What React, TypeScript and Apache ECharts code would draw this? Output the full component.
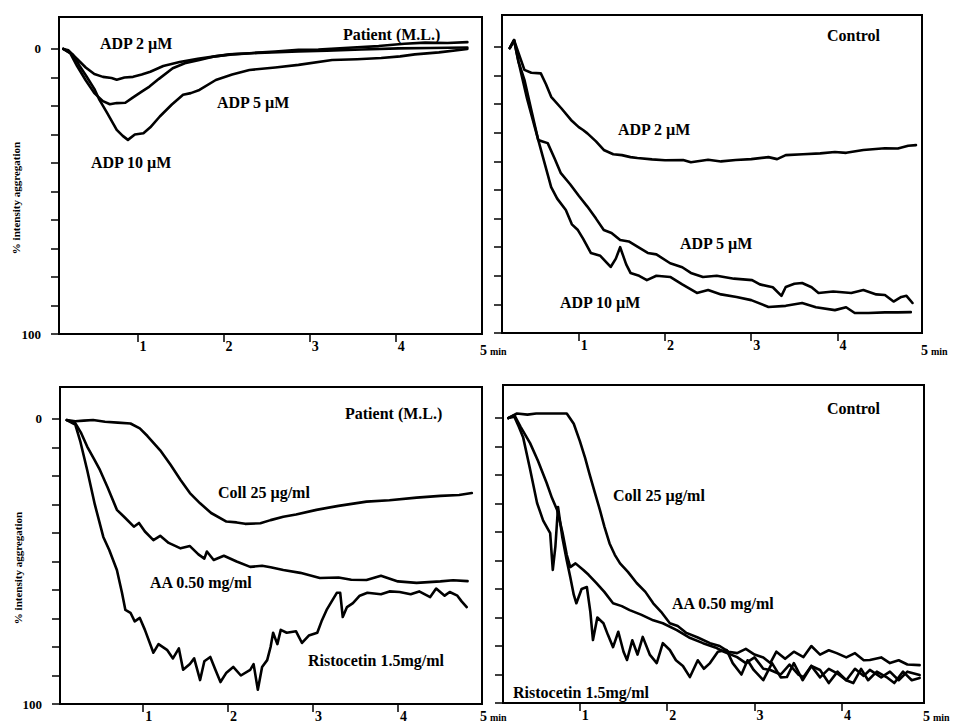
import React, { useEffect, useRef } from "react";
import * as echarts from "echarts";

// ---- Data (x: minutes, y: % intensity aggregation) ----
const xTickValues = [1, 2, 3, 4];
const yTickValues = [0, 10, 20, 30, 40, 50, 60, 70, 80, 90, 100];
const yLabelValues = [0, 100];

// Top-left: Patient (M.L.), ADP
const adp2Patient = [[0.14,0],[0.2,0.5],[0.3,3.5],[0.4,6.5],[0.5,8.8],[0.6,9.8],[0.7,10.2],[0.76,10.8],[0.85,10],[0.95,9.8],[1.05,9],[1.15,8],[1.3,6],[1.49,4.6],[1.7,3.5],[1.9,2.6],[2.07,1.9],[2.3,1.5],[2.6,0.9],[2.87,0.3],[3.1,0.2],[3.45,-0.4],[3.8,-1],[4.1,-1.8],[4.34,-2.2],[4.6,-2.1],[4.83,-2.4]];
const adp5Patient = [[0.14,0],[0.22,1.5],[0.3,6],[0.4,11],[0.5,15.5],[0.6,18.3],[0.68,19.4],[0.76,19],[0.86,18.9],[0.95,17],[1.05,15],[1.14,13.2],[1.25,10.5],[1.41,6.8],[1.55,5],[1.72,3.9],[1.9,2.6],[2.1,1.9],[2.4,1.4],[2.87,0.9],[3.2,0.6],[3.6,0.2],[4.03,-0.2],[4.4,-0.3],[4.83,-0.5]];
const adp10Patient = [[0.14,0],[0.25,2],[0.33,6],[0.41,9.7],[0.5,14],[0.56,17.9],[0.65,22.5],[0.76,28.4],[0.83,30.5],[0.89,31.9],[0.97,30],[1.07,29.6],[1.15,27.5],[1.26,23.7],[1.4,19.5],[1.53,16.1],[1.62,15.5],[1.72,14.4],[1.91,10.9],[2.1,9],[2.3,7.4],[2.6,6.5],[2.87,5.6],[3.26,3.9],[3.55,3.6],[3.83,3.2],[4.05,2.6],[4.22,1.9],[4.5,1.2],[4.83,0]];

// Top-right: Control, ADP
const adp2Control = [[0.2,0.4],[0.25,-2.4],[0.3,2],[0.37,8],[0.45,9],[0.56,9.2],[0.62,13],[0.68,17.4],[0.8,21.5],[0.91,25.5],[1.0,28],[1.05,29],[1.1,30.2],[1.2,33],[1.29,36],[1.4,37.5],[1.5,37.8],[1.6,38.5],[1.68,38.8],[1.85,39.3],[2.0,39.6],[2.21,39.5],[2.3,40.3],[2.5,39.4],[2.65,40],[2.82,39.5],[3.0,39.2],[3.2,38.5],[3.3,39.2],[3.4,37.8],[3.6,37.5],[3.8,37.2],[3.97,36.7],[4.1,37],[4.3,36],[4.55,35.4],[4.7,35.5],[4.82,34.5],[4.91,34.3]];
const adp5Control = [[0.2,0.4],[0.25,-2.4],[0.3,5],[0.37,11.5],[0.45,22],[0.53,32.5],[0.58,33],[0.64,33.6],[0.72,39],[0.79,44],[0.9,48],[1.0,52],[1.1,55.8],[1.2,60],[1.29,64],[1.38,65],[1.48,67.5],[1.58,68],[1.68,69.8],[1.8,72],[1.9,72.5],[2.06,75.6],[2.2,77],[2.3,79],[2.44,80.4],[2.6,80],[2.8,81],[3.01,81.5],[3.1,83],[3.25,84],[3.35,87],[3.4,83.9],[3.5,82.8],[3.59,82.5],[3.7,84],[3.78,86],[3.95,85.5],[4.16,86],[4.3,85],[4.45,86.5],[4.55,86.7],[4.65,89],[4.74,87.4],[4.8,87],[4.87,89.5]];
const adp10Control = [[0.2,0.4],[0.25,-2.4],[0.3,5],[0.4,18],[0.49,28],[0.58,38],[0.68,49],[0.75,53],[0.85,57],[0.92,62],[0.99,64],[1.05,67],[1.14,72],[1.25,73],[1.37,76.9],[1.43,74],[1.48,70],[1.55,76],[1.6,79],[1.7,80],[1.79,81.5],[1.9,80],[2.06,80.4],[2.2,83],[2.37,86],[2.5,85],[2.65,86.5],[2.83,87.4],[3.0,88.5],[3.2,90.9],[3.4,90.5],[3.59,89.5],[3.75,91],[3.97,92],[4.1,91],[4.2,93],[4.36,93],[4.55,92.8],[4.7,92.8],[4.85,92.7]];

// Bottom-left: Patient (M.L.), Coll / AA / Ristocetin
const collPatient = [[0.1,0.4],[0.2,0.8],[0.3,0.6],[0.41,0.4],[0.55,1],[0.7,1.3],[0.85,1.6],[0.96,3.3],[1.05,6],[1.2,11],[1.32,16],[1.44,21.4],[1.55,26],[1.67,29.6],[1.8,33],[1.98,36],[2.1,36.3],[2.2,36.8],[2.38,36.6],[2.5,35.5],[2.65,34.3],[2.8,33.5],[3.04,31.9],[3.3,30.5],[3.63,29],[3.9,28.5],[4.22,27.6],[4.5,27],[4.72,26.7],[4.87,26]];
const aaPatient = [[0.1,0.4],[0.2,1.5],[0.27,5],[0.34,9.7],[0.42,14],[0.49,17.9],[0.58,24],[0.69,31.9],[0.78,34.5],[0.89,37.8],[0.95,36.5],[1.02,39.5],[1.12,42.5],[1.2,41],[1.3,43.5],[1.44,45.4],[1.55,44.6],[1.65,47.5],[1.72,49],[1.75,46.5],[1.83,49.5],[1.95,48],[2.1,50],[2.26,51.9],[2.4,51.5],[2.5,52],[2.65,53],[2.85,54],[3.08,55.8],[3.3,55.6],[3.45,56.4],[3.63,56.5],[3.8,55],[4.0,57],[4.22,57.5],[4.5,57],[4.65,56.6],[4.82,56.9]];
const ristPatient = [[0.1,0.4],[0.2,2],[0.26,8],[0.34,17.9],[0.43,30],[0.53,41.4],[0.6,46],[0.69,53],[0.75,61],[0.79,67],[0.85,68],[0.9,71],[0.96,69.8],[1.02,74],[1.12,82],[1.18,79],[1.28,81],[1.35,84],[1.42,80.5],[1.47,88],[1.55,86],[1.6,84],[1.67,91.6],[1.72,85],[1.79,83.5],[1.85,88],[1.91,92.3],[1.98,89],[2.06,87],[2.15,90],[2.26,88],[2.3,86],[2.35,95],[2.4,87],[2.46,84.6],[2.5,80],[2.53,75],[2.58,79],[2.62,74],[2.69,75],[2.8,74.5],[2.87,78.6],[2.95,76],[3.05,75],[3.1,71],[3.16,67],[3.22,64],[3.28,61],[3.32,61],[3.35,69.5],[3.4,66],[3.47,64.6],[3.55,62],[3.64,61],[3.8,61.5],[3.9,60.5],[4.02,60.7],[4.15,61.5],[4.25,60.5],[4.38,62.5],[4.45,59.5],[4.55,62],[4.61,60.7],[4.7,62],[4.75,64],[4.81,66]];

// Bottom-right: Control, Coll / AA / Ristocetin
const collControl = [[0.18,0],[0.28,-1.6],[0.4,-1.2],[0.5,-1.6],[0.7,-1.6],[0.85,-1.6],[0.93,2],[1.0,8.1],[1.06,14],[1.11,19.6],[1.17,26],[1.23,32.3],[1.28,38],[1.34,44],[1.4,48],[1.46,51],[1.55,54],[1.65,57.9],[1.75,61],[1.84,65],[1.93,68],[2.03,72],[2.12,73],[2.22,75.4],[2.35,77],[2.49,79],[2.6,80],[2.7,82],[2.8,82.5],[2.9,81],[3.0,83],[3.1,84],[3.18,86],[3.25,82],[3.35,84.5],[3.45,82],[3.56,83.9],[3.65,80],[3.75,83],[3.85,81.5],[3.94,82.5],[4.05,84],[4.15,82.5],[4.25,85],[4.32,84.9],[4.45,84],[4.55,86],[4.65,85],[4.75,86.5],[4.89,86.7]];
const aaControl = [[0.18,0],[0.25,-1],[0.32,3],[0.43,8.8],[0.52,15],[0.62,22.8],[0.68,28],[0.74,32.3],[0.8,40],[0.85,48],[0.89,52.3],[0.95,51],[1.04,53.3],[1.1,55],[1.19,57.9],[1.28,61],[1.38,65],[1.48,66],[1.57,67.4],[1.7,69],[1.84,71],[1.95,72],[2.11,74.4],[2.25,77],[2.41,79],[2.55,80.5],[2.65,82],[2.8,83.9],[2.9,86],[3.0,84],[3.1,88],[3.18,88.4],[3.3,90],[3.4,86.5],[3.5,90],[3.56,90.9],[3.65,87],[3.75,91],[3.85,88],[3.94,89.5],[4.05,92],[4.15,88],[4.25,90.5],[4.32,88.4],[4.45,91],[4.55,89],[4.65,92],[4.75,89],[4.89,90.2]];
const ristControl = [[0.18,0],[0.25,-0.5],[0.3,3],[0.35,6.7],[0.43,18],[0.51,29.8],[0.58,36],[0.66,40.4],[0.69,53.3],[0.72,45],[0.75,31.2],[0.8,42],[0.85,50],[0.89,55.8],[0.93,62],[0.96,65],[1.02,60],[1.08,59.3],[1.12,68],[1.15,77.9],[1.2,70],[1.27,72],[1.32,76],[1.38,80.4],[1.44,75],[1.5,82],[1.54,84.9],[1.6,78],[1.66,83],[1.72,76.8],[1.8,83],[1.88,86],[1.95,79],[2.03,81.4],[2.1,85],[2.18,87],[2.26,90.9],[2.35,85],[2.42,88],[2.49,86],[2.58,82],[2.68,81.4],[2.75,86],[2.85,90],[2.92,85],[2.99,88.4],[3.1,92],[3.2,86],[3.3,91],[3.37,90.9],[3.45,86],[3.55,92],[3.65,87],[3.75,88.4],[3.85,93],[3.95,89],[4.05,92],[4.13,93],[4.22,88],[4.3,92],[4.4,89],[4.51,90.9],[4.6,93],[4.7,89],[4.8,92],[4.89,91.2]];

const FONT = "'Liberation Serif', 'DejaVu Serif', serif";

export default function App() {
  const ref = useRef<HTMLDivElement>(null);
  useEffect(() => {
    if (!ref.current) return;
    const chart = echarts.init(ref.current, null, { renderer: "svg" });

    const grids = [
      { left: 59, top: 17, width: 423, height: 317, xMin: 0.09, xMax: 5, yMin: -11.2, labels: true },
      { left: 502, top: 15, width: 420, height: 318, xMin: 0.11, xMax: 4.98, yMin: -11.2, labels: false },
      { left: 60, top: 387, width: 422, height: 317, xMin: 0.02, xMax: 4.99, yMin: -11.2, labels: true },
      { left: 503, top: 385, width: 421, height: 318, xMin: 0.12, xMax: 4.94, yMin: -11.6, labels: false },
    ];

    const line = (data: number[][], idx: number) => ({
      type: "line",
      xAxisIndex: idx,
      yAxisIndex: idx,
      data,
      showSymbol: false,
      symbol: "none",
      silent: true,
      lineStyle: { color: "#000", width: 2.6, join: "round", cap: "round" },
    });

    const txt = (text: string, x: number, y: number, size = 16) => ({
      type: "text",
      x,
      y,
      style: {
        text,
        fill: "#000",
        font: `bold ${size}px ${FONT}`,
        verticalAlign: "middle",
      },
    });

    const fiveMin = (x: number, y: number) => [txt("5", x, y, 14), txt("min", x + 10, y + 1, 10)];

    const yTitle = (x: number, y: number) => ({
      type: "text",
      x,
      y,
      rotation: Math.PI / 2,
      style: {
        text: "% intensity aggregation",
        fill: "#000",
        font: `bold 11px ${FONT}`,
        align: "center",
        verticalAlign: "middle",
      },
    });

    const option: any = {
      animation: false,
      backgroundColor: "#fff",
      grid: grids.map((g) => ({
        left: g.left,
        top: g.top,
        width: g.width,
        height: g.height,
        show: true,
        borderColor: "#000",
        borderWidth: 2,
        containLabel: false,
      })),
      xAxis: grids.map((g, i) => ({
        type: "value",
        gridIndex: i,
        min: g.xMin,
        max: g.xMax,
        axisLine: { show: true, onZero: false, lineStyle: { color: "#000", width: 2 } },
        axisTick: {
          show: true,
          customValues: xTickValues,
          length: 8,
          inside: false,
          lineStyle: { color: "#000", width: 1.5 },
        },
        axisLabel: {
          show: true,
          customValues: xTickValues,
          color: "#000",
          fontFamily: FONT,
          fontWeight: "bold",
          fontSize: 14,
          align: "left",
          margin: 5,
          padding: [0, 0, 0, 2],
        },
        splitLine: { show: false },
      })),
      yAxis: grids.map((g, i) => ({
        type: "value",
        gridIndex: i,
        inverse: true,
        min: g.yMin,
        max: 100,
        axisLine: { show: true, onZero: false, lineStyle: { color: "#000", width: 2 } },
        axisTick: {
          show: true,
          customValues: yTickValues,
          length: 8,
          inside: false,
          lineStyle: { color: "#000", width: 1.5 },
        },
        axisLabel: {
          show: g.labels,
          customValues: yLabelValues,
          color: "#000",
          fontFamily: FONT,
          fontWeight: "bold",
          fontSize: 13,
          margin: 18,
        },
        splitLine: { show: false },
      })),
      series: [
        line(adp2Patient, 0),
        line(adp5Patient, 0),
        line(adp10Patient, 0),
        line(adp2Control, 1),
        line(adp5Control, 1),
        line(adp10Control, 1),
        line(collPatient, 2),
        line(aaPatient, 2),
        line(ristPatient, 2),
        line(collControl, 3),
        line(aaControl, 3),
        line(ristControl, 3),
      ],
      graphic: [
        // top-left
        txt("ADP 2 \u00B5M", 100, 43),
        txt("Patient (M.L.)", 343, 34),
        txt("ADP 5 \u00B5M", 217, 102),
        txt("ADP 10 \u00B5M", 91, 162),
        // top-right
        txt("Control", 827, 35),
        txt("ADP 2 \u00B5M", 618, 129),
        txt("ADP 5 \u00B5M", 680, 243),
        txt("ADP 10 \u00B5M", 560, 302),
        // bottom-left
        txt("Patient (M.L.)", 345, 413),
        txt("Coll 25 \u00B5g/ml", 218, 492),
        txt("AA 0.50 mg/ml", 150, 582),
        txt("Ristocetin 1.5mg/ml", 308, 660),
        // bottom-right
        txt("Control", 827, 408),
        txt("Coll 25 \u00B5g/ml", 613, 495),
        txt("AA 0.50 mg/ml", 672, 603),
        txt("Ristocetin 1.5mg/ml", 513, 692),
        // 5 min labels
        ...fiveMin(480, 350),
        ...fiveMin(921, 350),
        ...fiveMin(480, 716),
        ...fiveMin(923, 716),
        // y titles
        yTitle(16, 198),
        yTitle(18, 568),
      ],
    };

    chart.setOption(option);
    return () => chart.dispose();
  }, []);

  return (
    <div
      ref={ref}
      style={{ position: "absolute", left: 0, top: 0, width: 954, height: 726, background: "#fff" }}
    />
  );
}
